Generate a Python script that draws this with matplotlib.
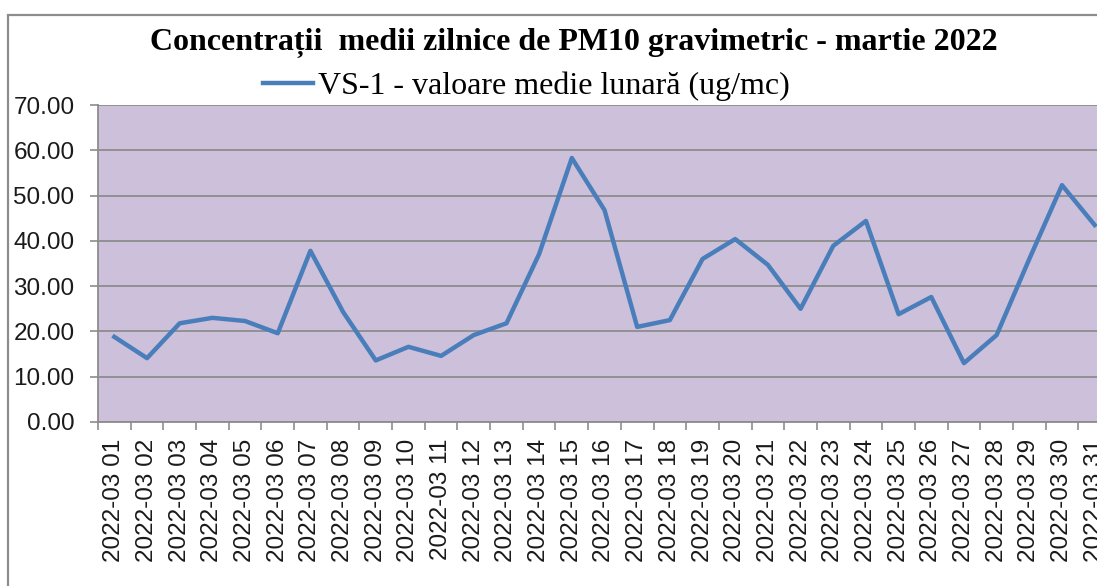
import matplotlib
matplotlib.use("Agg")
import matplotlib.pyplot as plt
from matplotlib.patches import Rectangle
from matplotlib.ticker import FixedLocator

# daily PM10 values, march 2022
days = ["2022-03 %02d" % d for d in range(1, 32)]
values = [18.8, 14.1, 21.8, 23.0, 22.3, 19.6, 37.8, 24.3, 13.6, 16.6,
          14.6, 19.2, 21.8, 37.1, 58.3, 46.8, 21.0, 22.5, 36.0, 40.4,
          34.7, 25.0, 38.9, 44.4, 23.8, 27.6, 13.0, 19.2, 36.0, 52.3,
          43.5]
yticks = [0, 10, 20, 30, 40, 50, 60, 70]

W, H = 1097, 586
fig = plt.figure(figsize=(W / 100, H / 100), dpi=100)

# chart frame (cut off at right / bottom like the screenshot)
fig.patches.append(Rectangle((8 / W, -0.1), 1.2, 1 - 15 / H + 0.1,
                             transform=fig.transFigure, fill=False,
                             edgecolor="#8c8c8c", linewidth=1.6))

left, right, top, bottom = 98, 1111, 105, 422
ax = fig.add_axes([left / W, 1 - bottom / H, (right - left) / W, (bottom - top) / H])
ax.set_facecolor("#ccc0da")

line, = ax.plot(days, values, color="#4a7ebb", linewidth=3.2,
                label="VS-1 - valoare medie lunară (ug/mc)")

ax.set_xlim(-0.5, len(days) - 0.5)
ax.set_ylim(0, 70)
ax.set_yticks(yticks)
ax.set_yticklabels(["%.2f" % v for v in yticks])
ax.yaxis.grid(True, color="#8c8c8c", linewidth=1.3)
ax.set_axisbelow(True)

ax.xaxis.set_minor_locator(FixedLocator([i - 0.5 for i in range(len(days) + 1)]))
ax.tick_params(axis="x", which="major", length=0, pad=12, labelrotation=90)
ax.tick_params(axis="x", which="minor", length=6, color="#8c8c8c", width=1.2)
ax.tick_params(axis="y", length=6, color="#8c8c8c", width=1.2, pad=11)

for lab in ax.get_xticklabels() + ax.get_yticklabels():
    lab.set_fontfamily("Liberation Sans")
    lab.set_fontsize(17.5)
    lab.set_color("#1a1a1a")

for s in ["top", "right"]:
    ax.spines[s].set_visible(False)
for s in ["left", "bottom"]:
    ax.spines[s].set_color("#8c8c8c")
    ax.spines[s].set_linewidth(1.3)

fig.text(574 / W, 1 - 43 / H,
         "Concentrații  medii zilnice de PM10 gravimetric - martie 2022",
         ha="center", va="center", fontfamily="Liberation Serif",
         fontweight="bold", fontsize=23)

fig.legend(handles=[line], loc="center left", bbox_to_anchor=(234 / W, 1 - 86 / H),
           frameon=False, handlelength=1.57, handletextpad=0.16,
           prop={"family": "Liberation Serif", "size": 23})

fig.savefig("out.png", dpi=100)
